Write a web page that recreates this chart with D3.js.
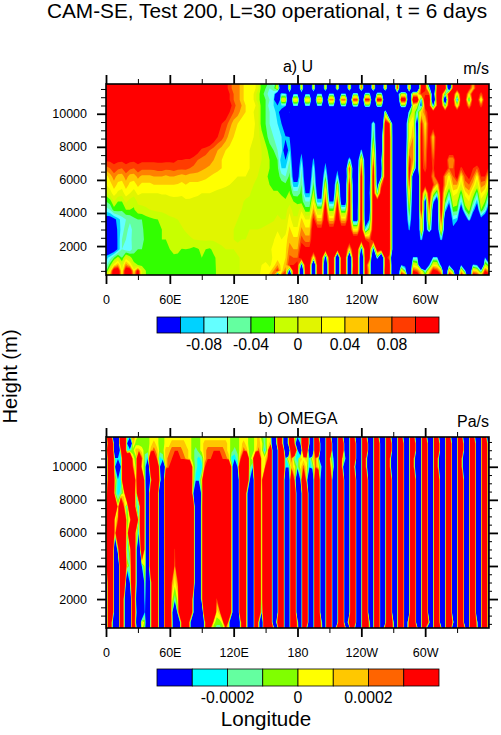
<!DOCTYPE html>
<html>
<head>
<meta charset="utf-8">
<script src="https://cdn.jsdelivr.net/npm/d3@7"></script>
<style>
  html, body { margin: 0; padding: 0; background: #fff; }
  text { font-family: "Liberation Sans", Arial, sans-serif; fill: #000; }
</style>
</head>
<body>
<svg id="chart"></svg>
<script>
// height levels of the U grid, top to bottom (m)
let uHeights = [11800,11550,11200,10850,10500,10100,9400,8600,7800,7200,6700,6200,5700,5200,4700,4200,3600,3000,2400,1800,1300,850,500,250]

// U in 0.01 m/s, one row per height, 97 longitudes (every 3.75 deg)
let uRows = [
[14,14,14,14,14,14,14,14,14,14, 14,14,14,14,14,14,14,14,14,14, 14,14,14,14,14,14,14,14,14,14, 11,9,7,7,5,3,3,3,1,-3, -3,-5,-7,0,-30,-30,2,-30,-30,2, -30,-30,2,-30,-30,2,-30,-30,3,-30, -30,5,-30,-30,8,-30,-30,6,-30,-30, 5,-30,-30,10,-30,-30,5,-30,-30,12, 12,-15,-30,12,12,12,-30,12,12,14, 14,14,6,14,14,14,14],
[14,14,14,14,14,14,14,14,14,14, 14,14,14,14,14,14,14,14,14,14, 14,14,14,14,14,14,14,14,14,14, 11,9,7,7,5,3,3,3,1,-3, -4,-6,-5,1,-20,-30,4,-30,-30,4, -30,-30,4,-30,-30,4,-30,-30,5,-30, -30,7,-30,-30,10,-30,-30,8,-30,-30, 7,-30,-30,12,-30,-30,8,-30,-30,12, 12,-5,-30,12,14,14,-25,12,14,14, 14,12,4,14,14,14,14],
[14,14,14,14,14,14,14,14,14,14, 14,14,14,14,14,14,14,14,14,14, 14,14,14,14,14,14,14,14,14,14, 12,10,8,7,5,3,3,2,-1,-3, -5,-7,-7,-15,-8,-8,-15,-10,-10,-15, -10,-10,-20,-9,-9,-25,-8,-8,-30,-8, -8,-30,-6,-6,-30,-5,-5,-30,-4,-4, -30,-30,-30,-15,0,0,-20,3,3,10, 8,8,-20,14,14,-5,14,14,0,14, 14,3,14,14,8,14,14],
[14,14,14,14,14,14,14,14,14,14, 14,14,14,14,14,14,14,14,14,14, 14,14,14,14,14,14,14,14,14,14, 12,10,8,7,5,3,3,2,-1,-3, -4,-6,-7,-30,2,2,-30,3,3,-30, 4,4,-30,5,5,-30,7,7,-30,8, 8,-30,10,10,-30,11,11,-30,12,12, -30,-30,-30,-30,14,14,-30,16,16,-10, 18,18,-30,14,14,-25,14,14,-12,14, 14,-7,14,14,1,14,14],
[14,14,14,14,14,14,14,14,14,14, 14,14,14,14,14,14,14,14,14,14, 14,14,14,14,14,14,14,14,14,14, 13,11,9,7,6,4,3,3,1,-3, -4,-7,-8,-10,-8,-8,-30,-8,-8,-30, -8,-8,-30,-8,-8,-30,-7,-7,-30,-6, -6,-30,-5,-5,-30,-4,-4,-30,-4,-4, -30,-30,-30,-30,-3,-3,-30,3,0,-12, 12,12,-10,10,14,-5,14,14,0,14, 14,5,14,14,8,14,14],
[14,14,14,14,14,14,14,14,14,14, 14,14,14,14,14,14,14,14,14,14, 14,14,14,14,14,14,14,14,14,14, 12,10,8,7,5,4,3,2,1,-3, -4,-6,-7,-9,-12,-30,-9,-30,-30,-14, -30,-30,-20,-30,-30,-30,-30,-30,-30,-30, -30,-30,-30,-30,-30,-30,-30,-30,-30,-30, -2,-30,-30,-30,-30,-30,-6,1,-6,4, 8,12,14,14,14,14,14,14,14,14, 14,14,14,14,14,14,14],
[14,14,14,14,14,14,14,14,14,14, 14,14,14,14,14,14,14,14,14,14, 14,14,14,14,14,14,14,14,12,10, 9,7,5,4,3,3,3,2.5,1,-3, -4,-6,-7,-8,-10,-30,-30,-30,-30,-30, -30,-30,-30,-30,-30,-30,-30,-30,-30,-30, -30,-30,-30,-30,-30,-30,-16,-5,-16,-30, 14,10,-16,-30,-30,-16,2,4,-16,11, 3,12,14,14,14,14,14,14,14,14, 14,14,14,14,14,14,14],
[14,14,14,14,14,14,14,14,14,14, 14,14,14,14,14,14,14,14,14,14, 14,14,14,14,14,14,14,12,10,9, 7,5,4,3.5,3,3,2.5,2,1,-1, -3,-5,-6,-7,-8,-9,-10,-20,-20,-30, -30,-30,-30,-30,-30,-30,-30,-30,-30,-30, -30,-30,-30,-30,-30,-30,-16,-3,-16,-16, 14,14,-16,-30,-30,-16,2,6,-15,12, 5,12,4,14,14,14,14,14,14,14, 14,14,14,14,14,14,14],
[14,14,14,14,14,14,14,14,14,14, 14,14,14,14,14,14,14,14,14,14, 14,14,12,11,9.5,9,8,7,6,5, 4,3.5,3,3,3,2.5,2,1.5,1,0, -1,-3,-4,-6,-7,-14,-8,-14,-14,-11, -16,-16,-14,-20,-20,-20,-30,-30,-30,-30, -30,-20,-20,-16,-9,-16,-16,3,-16,-16, 14,14,-16,-30,-30,-16,6,6,-16,12, 6,14,6,14,14,14,14,14,14,14, 14,14,14,14,14,14,14],
[10.5,10.5,10.5,10.5,10.5,10.5,10.5,10.5,10.5,10.5, 10.5,10.5,10.5,10.5,10.5,10.5,10.5,10.5,10,10, 9.5,9.5,9,8,7.5,7,7,6,5,4, 3.5,3,3,3,2.5,2,2,1.5,1,0, -1,-2,-3,-4,-10,-10,-6,-14,-14,-8, -16,-16,-9,-16,-16,-11,-18,-18,-14,-18, -18,-6,-16,-16,5,-16,-16,8,-16,-10, 14,14,-16,-30,-30,-16,10,6,-16,12, 7,14,8,14,14,14,6,6,14,14, 14,14,14,14,14,14,14],
[7,8,9.5,8.5,8,9.5,8.5,8,9.5,8.5, 8.5,8.5,8.5,9,9,8.5,8.5,9,8.5,8.5, 8.5,8,7.5,7,6.5,6,5.5,5,4.5,4, 3.5,3,3,2.5,2.5,2,2,1.5,.5,-.5, -1.5,-2,-3,-3.5,-8,-8,-4.5,-13,-13,-6, -15,-15,-6.5,-16,-16,-8,-16,-16,-11,-18, -18,10,-16,-16,10,-16,-16,12,-16,-12, 14,14,-16,-30,-30,-16,12,2,-16,12, 8,14,9,14,14,14,8,8,14,9, 12,14,10,8,12,14,9],
[3,5,7,5,5,7,5,5,6.5,5.5, 5.5,5.5,6,6,6,5.5,6,6,5.5,5, 5.5,5,5,5,4.5,4.5,4,3.5,3.2,3, 2.8,2.5,2.2,2,2,2,1.8,1,0,-1, -1.5,-2.5,-3,-3,-5,-6,-3.5,-12,-12,-5, -14,-14,-5,-15,-15,-4,-16,-16,-7,-18, -18,7,-16,-16,14,-16,-16,14,-16,-10, 14,14,-16,-30,-30,-16,12,-16,-30,14, 12,14,6,14,14,6,3,8,12,3, 9,11,8,3,10,10,3],
[2,3,5,3.5,3,5,3.5,3,4.5,3.5, 3.5,3.5,4,4,4,4,4,4,3.8,3.5, 4,3.5,3.5,3.5,3.5,3,3,2.8,2.6,2.4, 2.2,2,1.8,1.5,1.5,1.2,1,0,-1,-1.5, -2,-2,-2.5,-2.5,-3,-3.5,-2.5,-9,-9,-4, -12,-12,-3.5,-14,-14,1,-15,-15,0,-16, -16,12,-14,-14,14,-16,-14,14,-14,8, 14,14,-16,-30,-30,-16,9,-16,-30,14, 12,14,10,4,14,6,0,6,6,1, 7,8,5,0,7,6,0],
[-1,1,3,1.5,1,3,2,1,2.5,2, 2,2,2,2,2.2,2.2,2.5,2.5,2.4,2.2, 2.5,2.4,2.2,2.2,2,2,2,1.8,1.6,1.5, 1.4,1.2,1,.8,.6,.5,.3,-1,-1.5,-1.6, -1.7,-1.8,-1.8,-1.8,-2.2,-2.5,-1.8,-5,-5,-3.5, -10,-10,-.5,-12,-12,6,-14,-14,4,-16, -16,14,-14,-14,14,-16,-12,14,-6,14, 14,14,-16,-30,-30,-16,4,-16,-30,14, -2,14,0,-6,14,1,-5,3,2,-4, 3,5,0,-5,4,2,-5],
[-4,-3,0,-2,-2,.5,-1,-1.5,.5,.5, .6,.8,.8,1,1,1,1.2,1.4,1.5,1.6, 1.8,1.8,1.8,1.6,1.6,1.6,1.5,1.4,1.2,1.1, 1,.9,.7,.5,.2,-.2,-.5,-1,-1.2,-1.3, -1.3,-1.3,-1.2,-1,-1.5,-1.8,-1,-2,-2.5,-3, -6,-6,3,-9,-9,10,-10,-10,10,-14, -14,14,-14,-14,14,-16,-14,14,14,14, 14,14,-16,-30,-30,-16,1,-16,-30,14, -15,12,-8,-16,14,-3,-9,0,-1,-8, 0,2,-4,-9,1,-2,-9],
[-7,-6,-3,-3,-3.5,-2,-2,-2.2,-.8,-.5, -.3,0,.3,.5,.5,.6,.8,.8,1,1, 1.1,1.2,1.1,1.1,1,1,1,1,.9,.8, .7,.6,.4,.2,0,-.2,-.4,-.7,-.8,-.9, -.9,-.8,-.7,-.5,-.8,-1,1.5,-1,-1,1.5, -3,-3,6.5,-1,-1,14,-3,-3,14,-5, -5,14,-12,-12,14,-16,-14,14,14,14, 14,14,-16,-30,-30,-16,-2,-16,-30,14, -16,8,-14,-16,14,-8,-14,-3,-3,-14, -4,-1,-8,-14,-2,-6,-14],
[-12,-12,-11,-9,-7,-6,-5.5,-4.5,-4,-4, -3,-2.5,-2.2,-2,-1.5,-.8,-.4,-.2,0,.2, .3,.5,.7,.8,.8,.8,.8,.8,.8,.7, .6,.4,.2,0,-.2,-.3,-.4,-.5,-.6,-.6, -.5,-.4,-.2,.5,0,0,3,.5,.5,4.5, 2,2,11,5,5,14,5,5,14,5, 5,14,-12,-12,14,-15,-10,14,14,14, 14,14,-16,-30,-30,-16,-5,-16,-30,6, -16,4,-16,-16,10,-16,-16,-8,-9,-16, -16,-7,-16,-16,-12,-16,-16],
[-14,-13,-12,-9.5,-7,-5,-7,-5,-5,-4.5, -3,-2.5,-2.2,-2.2,-2,-1.6,-1,-.5,-.3,-.1, .1,.2,.3,.4,.5,.6,.6,.6,.6,.5, .4,.2,0,-.1,-.2,-.2,0,0,0,.1, .3,.6,1,1.8,1,1,4.5,2.5,2.5,6.5, 4.5,4.5,14,11,11,14,12,12,14,13, 13,14,3,3,14,-8,-2,14,14,14, 14,14,-16,-30,-30,-16,-9,-16,-30,5, -16,-2,-16,-16,4,-16,-30,-11,-16,-30, -30,-30,-30,-30,-30,-30,-30],
[-14,-14,-13,-9.5,-6,-6,-7,-4.5,-4.5,-4.5, -3.5,-2.5,-2.3,-2.3,-2,-2,-1.6,-1,-.6,-.5, -.3,-.1,0,.1,.2,.3,.3,.3,.3,.3, .2,0,0,-.1,0,0,.2,.5,.8,1, 1,1.2,1.8,3,2,3,5.5,4.5,4.5,9, 7,7,14,14,14,14,14,14,14,14, 14,14,14,14,14,10,8,14,14,14, 14,14,-16,-30,-30,-30,-20,-30,-16,-8, -16,-30,-30,-16,-8,-16,-30,-30,-30,-30, -30,-30,-30,-30,-30,-30,-30],
[-14,-14,-13,-9.5,-6,-7,-7.5,-4.5,-4,-4, -3.5,-3,-2.5,-2.4,-2.3,-2.3,-2,-1.7,-1.5,-2.1, -2,-2.2,-2.6,-2.2,-1.5,-2,-2.3,-1.5,-.5,-.2, 0,0,0,.2,.3,.5,.8,1,1.2,1.2, 1.4,1.6,2.5,3,2.5,3.5,7,6,6,12, 11,11,14,14,14,14,14,14,14,14, 14,3,14,14,-12,14,14,-12,14,14, 14,14,-16,-30,-30,-30,-12,-30,-30,-30, -30,-30,-30,-30,-30,-30,-30,-30,-30,-30, -30,-30,-30,-30,-30,-30,-30],
[-9,-7,-4,-1,-4,1,-1,-3.5,-2.5,-3, -3,-2.5,-2.4,-2.5,-3,-3,-3,-2.2,-2.5,-2.8, -2.3,-3,-3,-2.5,-2,-2.4,-3,-2.3,-1.6,-1, -.7,-.5,-.3,-.1,.1,.3,.6,1,1.2,1, .6,1,2.5,3,3,4,8.5,8,8,14, 14,14,2,14,14,-15,14,14,-30,14, 14,-30,14,14,-30,14,12,-30,-5,-30, 12,8,-30,-30,-30,-30,-30,-8,-8,-30, -30,-30,-8,-8,-30,-30,-30,-30,-30,-30, -30,-30,-30,-30,-30,-9,-30],
[-7,-3,3,6,0,7,4,-1,-2,-2.5, -2.5,-2.4,-2.3,-2.5,-3,-3.2,-3.2,-3.2,-3.2,-3.2, -3.2,-3.2,-3.2,-3.2,-3.2,-3.2,-3.2,-2.4,-1.6,-1.2, -.8,-.6,-.3,-.1,.1,.2,.4,.6,.8,2, 3,1.5,3,6,3,5,10,10,12,-12, 14,14,-30,14,14,-30,14,14,-30,14, 14,-30,12,14,-30,14,2,-30,-30,-30, 12,14,-30,-30,-10,-12,-30,2,0,-30, -30,-10,3,2,-12,-30,-10,-30,-30,-10, -30,-30,-8,-10,-30,0,-5],
[-5,2,14,14,2,14,14,3,12,.5, -2,-2.4,-2.4,-2.2,-2.5,-3,-3.2,-3.2,-3.2,-3.2, -3.2,-3.2,-3.2,-3.2,-3.2,-3.2,-3.2,-2.5,-1.6,-1.2, -.9,-.6,-.3,-.1,.1,.2,.3,.5,.6,2.5, 4,3,6,10,3,8,-12,12,14,-30, 14,14,-30,14,14,-30,14,14,-30,14, 14,-30,14,14,-30,14,5,-30,-30,-30, 14,14,-30,-30,5,-5,-30,10,8,3, -8,3,12,10,4,-30,5,-5,-30,5, -8,-30,5,3,-8,10,5],
[0,5,14,14,3,14,14,5,14,0, -2,-2.4,-2.4,-2.2,-2.5,-3,-3.2,-3.2,-3.2,-3.2, -3.2,-3.2,-3.2,-3.2,-3.2,-3.2,-3.2,-2.5,-1.6,-1.2, -.9,-.6,-.3,-.1,.1,.2,.3,.5,.6,3, 2,5,8,-20,8,10,-30,14,14,-30, 14,14,-30,14,14,-30,14,14,-30,14, 14,-30,14,14,-30,14,5,-30,-30,-30, 14,14,-30,-30,12,8,-30,14,14,6, -2,8,14,14,10,-30,12,6,-30,12, 3,-30,12,10,4,14,12]
]

let omegaHeights = [11800,11400,11000,10500,10000,9200,8400,7600,6800,6000,5000,4000,3000,2000,1200,600,250]

// east half of OMEGA where the stripes run straight up (c54 to c128)
let omegaEast = [12,12,-12,-12, 12,12,-12,-12, 12,12,-12,-12, 12,12,-12,-12, 12,12,-12,-12, 12,12,-12,-12, 12,12,-12,-12, 12,12,-12,-12, 12,12,-12,-12, 12,12,-12,-12, 12,12,-12,-12, 12,12,-12,-12, 12,12,-12,-12, 12,12,-12,-12, 12,12,-12,-12, 12,12,-12,-12, 12,12,-12,-12, 12,12,-12,-12, 12,12,-12]

// OMEGA in 0.0001 Pa/s, one row per height, 129 longitudes (every 2.8125 deg)
let omegaRows = [
[-2.5,12,.5,-12,-12,12,12,-1.5,-2.5,2.5, .5,-.5,-.5,-.5,-.5,.5,.5,.5,-.5,-.5, .5,.5,.5,.5,.5,.5,.5,.5,.5,-.5, -.5,-.5,.5,.5,.5,.5,.5,.5,.5,.5, .5,.5,-.5,-.5,-.5,.5,.5,.5,-.5,-.5, .5,1.5,-.5,-1.5,
 .5,.5,-12,-.5, 12,.5,-12,.5, 12,.5,-2.5,-2.5, 12,12,-2.5,-12, 12,2.5,-12,-12, 12,2.5,-12,-12, 12,2.5,-12,-12, 12,2.5,-12,-12, 12,2.5,-12,-12, 12,2.5,-12,-12, 12,2.5,-12,-12, 12,2.5,-12,-12, 12,2.5,-12,-12, 12,2.5,-12,-12, 12,2.5,-12,-12, 12,2.5,-12,-12, 12,2.5,-12,-12, 12,2.5,-12,-12, 12,2.5,-12],
[-12,12,12,-12,-12,12,12,-2.5,-12,1.5, -.5,-.5,-.5,-.5,-.5,.5,1.5,.5,-.5,-.5, .5,.5,1.5,1.5,1.5,1.5,1.5,.5,.5,-.5, -.5,-.5,.5,1.5,1.5,1.5,1.5,1.5,1.5,1.5, 1.5,.5,-.5,-.5,-.5,.5,1.5,.5,-.5,-.5, .5,1.5,.5,-1.5,
 .5,1.5,-12,-1.5, 12,.5,-12,.5, 12,2.5,-12,-2.5, 12,12,-2.5,-12, 12,12,-12,-12, 12,12,-12,-12, 12,12,-12,-12, 12,12,-12,-12, 12,12,-12,-12, 12,12,-12,-12, 12,12,-12,-12, 12,12,-12,-12, 12,12,-12,-12, 12,12,-12,-12, 12,12,-12,-12, 12,12,-12,-12, 12,12,-12,-12, 12,12,-12,-12, 12,12,-12],
[-2.5,12,12,-12,-12,2.5,12,-2.5,-1.5,-.5, 1.5,1.5,.5,-.5,-.5,1.5,2.5,1.5,-.5,-.5, 1.5,1.5,2.5,2.5,2.5,2.5,1.5,1.5,.5,-.5, -1.5,-.5,.5,1.5,2.5,2.5,2.5,2.5,2.5,2.5, 1.5,.5,-.5,-1.5,-.5,.5,2.5,1.5,-.5,-.5, .5,2.5,.5,-2.5,
 .5,12,-12,-12, 12,12,-12,-12, 12,12,-2.5,-12, 12,12,-12,-12, 12,12,-12,-12, 12,12,-12,-12, 12,12,-12,-12, 12,12,-12,-12, 12,12,-12,-12, 12,12,-12,-12, 12,12,-12,-12, 12,12,-12,-12, 12,12,-12,-12, 12,12,-12,-12, 12,12,-12,-12, 12,12,-12,-12, 12,12,-12,-12, 12,12,-12,-12, 12,12,-12],
[-12,12,12,-2.5,-2.5,-2.5,12,12,12,.5, -.5,12,2.5,-1.5,-2.5,12,12,2.5,-2.5,-1.5, 1.5,2.5,2.5,12,12,2.5,2.5,1.5,.5,-.5, -1.5,-2.5,-1.5,1.5,2.5,2.5,12,12,12,2.5, 2.5,1.5,-2.5,-2.5,-1.5,2.5,12,12,-.5,.5, 12,12,.5,.5,
 2.5,12,-12,-12, 12,12,-2.5,.5, 2.5,-1.5,-2.5,1.5, .5,1.5,-2.5,.5, 2.5,-.5,-12,-12, 12,.5,-2.5,-12, 12,1.5,-2.5,-12, 12,12,-12,-12, 12,.5,-12,-12, 12,12,-12,-12, 12,.5,-12,-12, 12,12,-12,-12, 12,.5,-12,-12, 12,12,-12,-12, 12,.5,-12,-12, 12,12,-12,-12, 12,.5,-12,-12, 12,12,-12,-12, 12,12,-12],
[-12,12,12,-2.5,-12,-2.5,12,12,12,2.5, -.5,12,.5,-.5,-12,12,12,12,-2.5,-12, 1.5,2.5,12,12,12,12,12,12,12,.5, -1.5,-2.5,-2.5,2.5,12,12,12,12,12,12, 12,12,.5,-12,-2.5,12,12,12,-.5,-2.5, 12,12,.5,.5,
 12,12,-12,-12, 12,12,-2.5,-2.5, 1.5,.5,-1.5,.5, 2.5,.5,-2.5,-1.5, 2.5,.5,-2.5,-12, 12,2.5,-1.5,-12, 12,.5,-12,-12, 12,1.5,-12,-12, 12,.5,-12,-12, 12,12,-12,-12, 12,.5,-12,-12, 12,12,-12,-12, 12,.5,-12,-12, 12,12,-12,-12, 12,.5,-12,-12, 12,12,-12,-12, 12,.5,-12,-12, 12,12,-12,-12, 12,12,-12],
[-12,12,12,.5,-2.5,-2.5,12,12,12,12, .5,12,12,-.5,-12,.5,12,12,.5,-12, 12,12,12,12,12,12,12,12,12,.5, -2.5,-2.5,.5,12,12,12,12,12,12,12, 12,12,.5,-12,-12,12,12,12,-2.5,-12, 12,12,.5,12,
 12,12,-12,-12, 12,12,-12,-12, 12,2.5,-12,-2.5, 12,.5,-12,-12, 12,12,-12,-12, 12,12,-12,-12, 12,12,-12,-12, 12,12,-12,-12, 12,12,-12,-12, 12,12,-12,-12, 12,12,-12,-12, 12,12,-12,-12, 12,12,-12,-12, 12,12,-12,-12, 12,12,-12,-12, 12,12,-12,-12, 12,12,-12,-12, 12,12,-12,-12, 12,12,-12],
[-2.5,12,12,-.5,-2.5,-1.5,.5,12,12,12, -1.5,12,12,.5,-12,12,12,12,-12,-12, 12,12,12,12,12,12,12,12,12,-.5, -12,-12,-.5,12,12,12,12,12,12,12, 12,12,.5,-12,-12,12,12,.5,-12,-12, 12,12,-.5,12, ...omegaEast],
[.5,12,12,12,.5,12,2.5,-2.5,12,12, -.5,-2.5,12,.5,-12,12,12,12,-12,-12, 12,12,12,12,12,12,12,12,12,12, -12,-12,.5,12,12,12,12,12,12,12, 12,12,.5,-12,-12,12,12,.5,-12,-12, 12,12,-.5,12, ...omegaEast],
[.5,12,12,.5,2.5,12,12,-.5,.5,12, 12,-1.5,12,.5,-12,12,12,12,-12,-12, 12,12,12,12,12,12,12,12,12,12, -12,-12,.5,12,12,12,12,12,12,12, 12,12,.5,-12,-12,12,12,.5,-12,-12, 12,12,-.5,12, ...omegaEast],
[-.5,12,12,.5,12,12,12,-1.5,12,12, .5,-2.5,12,.5,-12,12,12,12,-12,-12, 12,12,12,12,12,12,12,12,12,12, -12,-12,.5,12,12,12,12,12,12,12, 12,12,.5,-12,-12,12,12,.5,-12,-12, 12,12,-.5,12, ...omegaEast],
[-.5,12,12,-12,.5,12,12,-2.5,.5,12, .5,-12,12,.5,-12,12,12,12,-12,-12, 12,12,12,2.5,12,12,12,12,12,12, -12,-12,.5,12,12,12,12,12,12,12, 12,12,.5,-12,-12,12,12,.5,-12,-12, 12,12,-.5,12, ...omegaEast],
[.5,12,12,-12,-12,12,12,.5,-1.5,12, .5,-12,-2.5,.5,-12,12,12,12,-12,-12, 12,12,12,1.5,12,12,12,12,12,12, -12,-12,.5,12,12,12,12,12,12,12, 12,12,.5,-12,-12,12,12,.5,-12,-12, 12,12,-.5,12, ...omegaEast],
[-12,12,12,-12,-12,12,12,-12,-2.5,12, .5,-12,-12,-.5,-12,.5,12,12,-12,-12, 12,12,2.5,.5,2.5,12,12,12,12,12, -12,-12,.5,12,12,12,12,12,12,12, 12,12,.5,-12,-12,12,12,.5,-12,-12, 12,12,-.5,12, ...omegaEast],
[-12,12,12,-12,-12,12,.5,-12,-12,12, -2.5,-12,-12,-1.5,-12,.5,12,12,-12,-12, 12,12,.5,-1.5,.5,12,12,12,12,.5, -12,-12,.5,12,12,12,12,2.5,12,12, 12,12,.5,-12,-12,12,12,.5,-12,-12, 12,12,-.5,12, ...omegaEast],
[-12,12,12,-12,-12,12,.5,-12,-12,12, -.5,-12,-12,-2.5,-12,.5,12,12,-12,-12, 12,12,-.5,-12,-.5,12,12,12,12,.5, -12,-12,-12,12,12,12,12,.5,1.5,12, 12,12,.5,-12,-12,12,12,.5,-12,-12, 12,12,-2.5,12, ...omegaEast],
[-12,12,.5,-12,-12,12,.5,-12,-12,12, -2.5,-12,1.5,-.5,-12,.5,12,12,-12,-12, 12,12,.5,-12,-12,.5,12,12,.5,-12, -12,-12,-12,.5,12,12,.5,-.5,-.5,.5, 12,.5,-12,-12,-12,.5,12,.5,-12,-12, 12,.5,-12,12,
 12,12,-12,-.5, 12,12,-12,-12, 12,12,-.5,-12, 12,12,-12,-12, 12,12,-.5,-12, 12,12,-12,-12, 12,12,-12,.5, 12,12,-12,-12, 12,12,-.5,-12, 12,12,-12,-12, 12,12,-.5,-12, 12,12,-12,.5, 12,12,-12,-12, 12,12,-.5,-12, 12,12,-12,-12, 12,12,-.5,-12, 12,12,-12,-12, 12,12,-.5,-12, 12,12,-12],
[-12,12,.5,-12,-12,12,.5,-12,-12,12, .5,-12,.5,-1.5,-12,.5,12,12,-12,-12, 12,12,.5,-12,-12,.5,12,12,.5,-12, -12,-12,-12,.5,12,2.5,-.5,-1.5,-1.5,-.5, 2.5,.5,-12,-12,-12,.5,12,.5,-12,-12, 12,.5,-12,12,
 12,12,.5,-12, 12,12,-12,-12, 12,12,.5,-12, 12,.5,-12,-12, 12,12,.5,-12, 12,12,-12,1.5, 12,12,.5,-12, 12,.5,-12,-12, 12,12,.5,-12, 12,12,-12,.5, 12,12,.5,-12, 12,12,-12,.5, 12,12,.5,-12, 12,.5,-12,-12, 12,12,.5,-12, 12,12,-12,-12, 12,12,.5,-12, 12,12,.5,-12, 12,12,-12]
]

// colour bins and their boundaries
let uLevels = [-10,-8,-6,-4,-2,0,2,4,6,8,10]
let uColors = ['#0000ff','#00d2ff','#64ffff','#64ffa0','#32ff00','#c8ff00','#e1f500','#ffff00','#ffc800','#ff8000','#ff3c00','#ff0000']
let uBarTicks = [-8,-4,0,4,8]
let uBarLabels = ['-0.08','-0.04','0','0.04','0.08']

let omegaLevels = [-3,-2,-1,0,1,2,3]
let omegaColors = ['#0000ff','#00ffff','#64ffa0','#80ff00','#ffff00','#ffc800','#ff6400','#ff0000']
let omegaBarTicks = [-2,0,2]
let omegaBarLabels = ['-0.0002','0','0.0002']

let lonMajor = [0,60,120,180,240,300]
let lonMajorLabels = ['0','60E','120E','180','120W','60W']
let lonMinor = [30,90,150,210,270,330]
let heightMajor = [2000,4000,6000,8000,10000]
let heightMinor = [500,1000,1500,2500,3000,3500,4500,5000,5500,6500,7000,7500,8500,9000,9500,10500,11000,11500]

let width = 501
let height = 735

let svg = d3.select('#chart').attr('width', width).attr('height', height)

let xScale = d3.scaleLinear().domain([0, 360]).range([106, 489])

// one filled contour per level, stacked on a rectangle of the lowest colour
let drawField = (top, bottom, rows, heights, lonStep, levels, colors) => {
    let nx = rows[0].length
    let ny = rows.length
    let yScale = d3.scaleLinear().domain([250, 11800]).range([bottom, top])
    let rowHeight = d3.scaleLinear().domain(d3.range(ny)).range(heights)
    let project = d3.geoTransform({
        point: function (i, j) {
            let lon = Math.max(0, Math.min(nx - 1, i - 0.5)) * lonStep
            let h = rowHeight(Math.max(0, Math.min(ny - 1, j - 0.5)))
            this.stream.point(xScale(lon), yScale(h))
        }
    })
    let path = d3.geoPath(project)
    let contours = d3.contours().size([nx, ny]).thresholds(levels)(rows.flat())

    let g = svg.append('g')
    g.append('rect')
        .attr('x', xScale(0))
        .attr('y', top)
        .attr('width', xScale(360) - xScale(0))
        .attr('height', bottom - top)
        .attr('fill', colors[0])
    g.selectAll('path')
        .data(contours)
        .enter()
        .append('path')
        .attr('d', path)
        .attr('fill', (item, i) => colors[i + 1])
}

let drawAxes = (top, bottom) => {
    let yScale = d3.scaleLinear().domain([250, 11800]).range([bottom, top])
    let left = xScale(0)
    let right = xScale(360)

    let addAxis = (axis, x, y) => {
        let g = svg.append('g').attr('transform', 'translate(' + x + ',' + y + ')').call(axis)
        g.select('.domain').remove()
        return g
    }
    let styleMinor = g => g.selectAll('line').attr('stroke', '#000').attr('stroke-width', 1)
    let styleMajor = g => {
        g.selectAll('line').attr('stroke', '#000').attr('stroke-width', 1.8)
        g.selectAll('text').style('font-size', '12.5px').style('font-family', '"Liberation Sans"')
    }

    // minor ticks
    styleMinor(addAxis(d3.axisBottom(xScale).tickValues(lonMinor).tickSize(5).tickFormat(''), 0, bottom))
    styleMinor(addAxis(d3.axisTop(xScale).tickValues(lonMinor).tickSize(5).tickFormat(''), 0, top))
    styleMinor(addAxis(d3.axisLeft(yScale).tickValues(heightMinor).tickSize(5).tickFormat(''), left, 0))
    styleMinor(addAxis(d3.axisRight(yScale).tickValues(heightMinor).tickSize(3).tickFormat(''), right, 0))

    // major ticks with labels
    styleMajor(addAxis(d3.axisBottom(xScale).tickValues(lonMajor).tickSize(9).tickPadding(11)
        .tickFormat((d, i) => lonMajorLabels[i]), 0, bottom))
    styleMajor(addAxis(d3.axisTop(xScale).tickValues(lonMajor).tickSize(9).tickFormat(''), 0, top))
    styleMajor(addAxis(d3.axisLeft(yScale).tickValues(heightMajor).tickSize(9).tickPadding(10)
        .tickFormat(d3.format('d')), left, 0))
    styleMajor(addAxis(d3.axisRight(yScale).tickValues(heightMajor).tickSize(9).tickFormat(''), right, 0))

    svg.append('rect')
        .attr('x', left)
        .attr('y', top)
        .attr('width', right - left)
        .attr('height', bottom - top)
        .attr('fill', 'none')
        .attr('stroke', '#000')
        .attr('stroke-width', 1.6)
}

let drawColorBar = (top, barHeight, levels, colors, ticks, labels) => {
    let band = d3.scaleBand().domain(d3.range(colors.length)).range([157, 439])
    let labelScale = d3.scaleLinear()
        .domain([levels[0], levels[levels.length - 1]])
        .range([157 + band.bandwidth(), 439 - band.bandwidth()])

    svg.append('g').selectAll('rect')
        .data(colors)
        .enter()
        .append('rect')
        .attr('x', (item, i) => band(i))
        .attr('y', top)
        .attr('width', band.bandwidth())
        .attr('height', barHeight)
        .attr('fill', item => item)
        .attr('stroke', '#000')
        .attr('stroke-width', 0.8)

    svg.append('g').selectAll('text')
        .data(ticks)
        .enter()
        .append('text')
        .attr('x', item => labelScale(item))
        .attr('y', top + barHeight + 17)
        .attr('text-anchor', 'middle')
        .style('font-size', '15.8px')
        .text((item, i) => labels[i])
}

let addText = (x, y, anchor, size, label) => {
    return svg.append('text')
        .attr('x', x)
        .attr('y', y)
        .attr('text-anchor', anchor)
        .style('font-size', size + 'px')
        .text(label)
}

drawField(84, 275, uRows, uHeights, 3.75, uLevels, uColors)
drawAxes(84, 275)
drawColorBar(317, 16, uLevels, uColors, uBarTicks, uBarLabels)

drawField(437, 628, omegaRows, omegaHeights, 2.8125, omegaLevels, omegaColors)
drawAxes(437, 628)
drawColorBar(669, 17, omegaLevels, omegaColors, omegaBarTicks, omegaBarLabels)

addText(267, 18, 'middle', 20.8, 'CAM-SE, Test 200, L=30 operational, t = 6 days')
addText(298, 72, 'middle', 16, 'a) U')
addText(489, 74, 'end', 16, 'm/s')
addText(298, 424, 'middle', 16.2, 'b) OMEGA')
addText(489, 427, 'end', 16, 'Pa/s')
addText(266, 726, 'middle', 20.6, 'Longitude')
addText(0, 0, 'middle', 20.2, 'Height (m)').attr('transform', 'translate(17,376.5) rotate(-90)')
</script>
</body>
</html>
